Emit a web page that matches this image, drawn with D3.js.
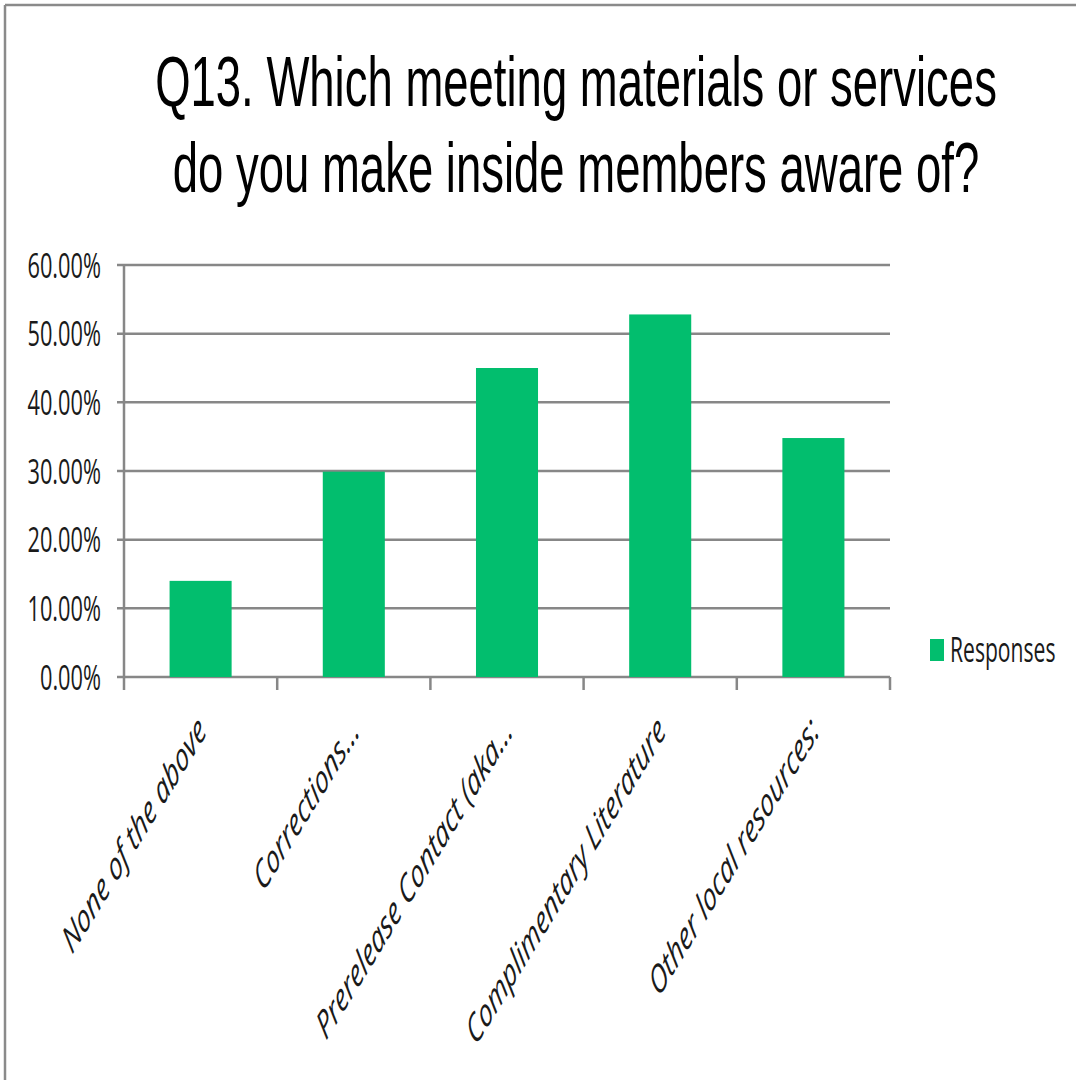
<!DOCTYPE html>
<html>
<head>
<meta charset="utf-8">
<script src="https://cdn.jsdelivr.net/npm/d3@7"></script>
<style>
  html, body { margin: 0; padding: 0; background: #ffffff; }
  svg { display: block; }
</style>
</head>
<body>
<svg id="chart" width="1076" height="1080"></svg>
<script>
// ---- data ----
const titleLines = ["Q13. Which meeting materials or services", "do you make inside members aware of?"];
const categories = ["None of the above", "Corrections…", "Prerelease Contact (aka…", "Complimentary Literature", "Other local resources:"];
const values = [0.140, 0.299, 0.450, 0.528, 0.348];
const yTicks = [0, 0.1, 0.2, 0.3, 0.4, 0.5, 0.6];
const seriesName = "Responses";

// ---- layout ----
const W = 1076, H = 1080;
const plot = { left: 124, right: 890, top: 265, bottom: 677 };
const squeeze = 0.61;          // horizontal compression of the picture
const barColor = "#02BE6E";
const gridColor = "#878787";

const svg = d3.select("#chart");

// frame
svg.append("line").attr("x1", 5).attr("y1", 5).attr("x2", W).attr("y2", 5)
  .attr("stroke", "#8a8a8a").attr("stroke-width", 2.5);
svg.append("line").attr("x1", 5).attr("y1", 5).attr("x2", 5).attr("y2", H)
  .attr("stroke", "#8a8a8a").attr("stroke-width", 2.5);

// scales
const x = d3.scaleBand().domain(categories).range([plot.left, plot.right]).paddingInner(0).paddingOuter(0);
const y = d3.scaleLinear().domain([0, 0.6]).range([plot.bottom, plot.top]);
const barW = x.bandwidth() * 0.405;

// gridlines (with left tick stubs)
svg.append("g").selectAll("line").data(yTicks).join("line")
  .attr("x1", plot.left - 7).attr("x2", plot.right)
  .attr("y1", d => y(d)).attr("y2", d => y(d))
  .attr("stroke", gridColor).attr("stroke-width", 2.5);

// y-axis line
svg.append("line").attr("x1", plot.left).attr("x2", plot.left)
  .attr("y1", plot.top).attr("y2", plot.bottom + 13)
  .attr("stroke", gridColor).attr("stroke-width", 2.5);

// x ticks at category boundaries
const boundaries = categories.map(c => x(c)).concat([x(categories[categories.length - 1]) + x.bandwidth()]);
svg.append("g").selectAll("line").data(boundaries.slice(1)).join("line")
  .attr("x1", d => d).attr("x2", d => d)
  .attr("y1", plot.bottom).attr("y2", plot.bottom + 13)
  .attr("stroke", gridColor).attr("stroke-width", 2.5);

// bars
svg.append("g").selectAll("rect").data(values).join("rect")
  .attr("x", (d, i) => x(categories[i]) + (x.bandwidth() - barW) / 2)
  .attr("y", d => y(d))
  .attr("width", barW)
  .attr("height", d => y(0) - y(d))
  .attr("fill", barColor);

// y labels
const fmt = d3.format(".2%");
svg.append("g").selectAll("text").data(yTicks).join("text")
  .attr("transform", d => `translate(101,${y(d) + 12.5}) scale(0.66,1.04)`)
  .attr("text-anchor", "end")
  .attr("font-family", "'Open Sans', sans-serif")
  .attr("font-size", 33)
  .attr("fill", "#1a1a1a")
  .text(d => fmt(d));

// x labels (rotated 45deg then squeezed)
svg.append("g").selectAll("text").data(categories).join("text")
  .attr("transform", d => `translate(${x(d) + x.bandwidth() / 2 + 7},${plot.bottom + 56}) scale(${squeeze},1) rotate(-45)`)
  .attr("text-anchor", "end")
  .attr("font-family", "'Open Sans', sans-serif")
  .attr("font-style", "italic")
  .attr("font-size", 39)
  .attr("fill", "#1a1a1a")
  .text(d => d);

// legend
svg.append("rect").attr("x", 930).attr("y", 639).attr("width", 14).attr("height", 22).attr("fill", barColor);
svg.append("text")
  .attr("transform", "translate(950,662) scale(0.64,1.04)")
  .attr("font-family", "'Open Sans', sans-serif")
  .attr("font-size", 33)
  .attr("fill", "#1a1a1a")
  .text(seriesName);

// title
const tg = svg.append("g");
const tTexts = tg.selectAll("text").data(titleLines).join("text")
  .attr("text-anchor", "middle")
  .attr("font-family", "'Liberation Sans', Arial, sans-serif")
  .attr("font-size", 70)
  .attr("fill", "#000")
  .text(d => d);
const w0 = tTexts.nodes()[0].getComputedTextLength();
const ts = 842 / w0;
tTexts.attr("transform", (d, i) => `translate(576,${106 + i * 86}) scale(${ts},1)`);
</script>
</body>
</html>
